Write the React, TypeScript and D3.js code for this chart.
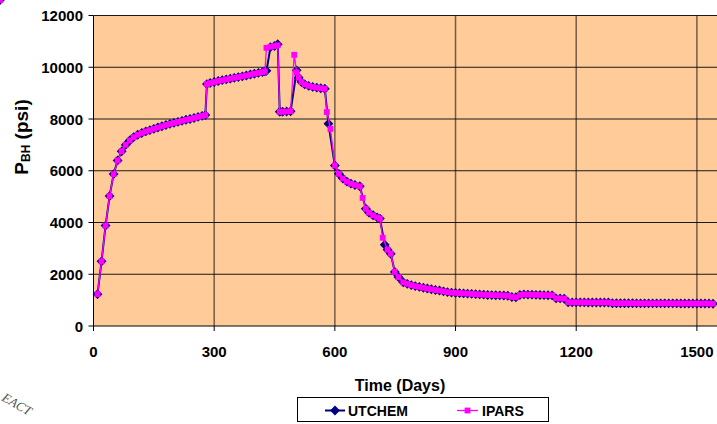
import * as d3 from "d3";

// sample times (days) shared by both runs; null = no sample for that run
const days = [
  10, 20, 30, 40, 50, 60, 70, 80, 90, 100, 110, 120, 130, 140, 150, 160, 170, 180, 190, 200,
  210, 220, 230, 240, 250, 260, 270, 278, 282, 290, 300, 310, 320, 330, 340, 350, 360, 370,
  380, 390, 400, 410, 420, 426, 430, 440, 450, 458, 463, 470, 480, 490, 499, 505, 510, 517,
  525, 535, 545, 555, 565, 575, 580, 584, 589, 600, 610, 620, 630, 640, 650, 662, 669, 677,
  685, 695, 705, 712, 719, 724, 731, 739, 749, 758, 770, 780, 790, 800, 810, 820, 830, 840,
  850, 860, 870, 880, 890, 900, 910, 920, 930, 940, 950, 960, 970, 980, 990, 1000, 1010,
  1020, 1030, 1040, 1050, 1060, 1070, 1080, 1090, 1100, 1110, 1120, 1130, 1140, 1150, 1160,
  1170, 1180, 1190, 1200, 1210, 1220, 1230, 1240, 1250, 1260, 1270, 1280, 1290, 1300, 1310,
  1320, 1330, 1340, 1350, 1360, 1370, 1380, 1390, 1400, 1410, 1420, 1430, 1440, 1450, 1460,
  1470, 1480, 1490, 1500, 1510, 1520, 1530, 1540, 1545,
];

const utchem: (number | null)[] = [
  1230, 2500, 3880, 5020, 5870, 6400, 6750, 7000, 7170, 7300, 7390, 7460, 7520, 7570, 7620, 7670, 7720, 7770, 7810, 7850,
  7890, 7930, 7970, 8000, 8040, 8080, 8120, 8150, 9350, 9390, 9430, 9470, 9500, 9530, 9560, 9590, 9620, 9650,
  9680, 9720, 9750, 9780, 9810, 9840, 9860, 10780, 10820, 10890, 8280, 8280, 8290, 8300, null, 9880, 9600, 9430,
  9340, 9280, 9240, 9210, 9190, 9170, null, 7820, null, 6200, 5880, 5700, 5580, 5500, 5450, 5400, null, 4530,
  4380, 4280, 4200, 4150, null, 3140, 2950, 2790, 2090, 1890, 1690, 1630, 1580, 1540, 1510, 1480, 1450, 1420,
  1390, 1370, 1340, 1310, 1290, 1280, 1270, 1260, 1250, 1240, 1230, 1220, 1210, 1200, 1195, 1190, 1185,
  1180, 1170, 1120, 1110, 1200, 1220, 1215, 1210, 1205, 1200, 1195, 1190, 1185, 1070, 1065,
  1060, 920, 915, 915, 915, 915, 910, 910, 910, 910, 910, 910, 880, 880, 880,
  880, 880, 880, 875, 875, 875, 875, 875, 875, 875, 875, 875, 875, 875,
  870, 870, 870, 870, 870, 870, 870, 870, 860,
];

const ipars: (number | null)[] = [
  1230, 2500, 3880, 5020, 5870, 6400, 6760, 7000, 7170, 7300, 7390, 7460, 7520, 7570, 7620, 7670, 7720, 7770, 7810, 7850,
  7890, 7930, 7970, 8000, 8040, 8080, 8120, 8150, 9350, 9390, 9430, 9470, 9500, 9530, 9560, 9590, 9620, 9650,
  9680, 9720, 9750, 9780, 9810, 9840, 10750, 10790, 10820, 10850, 8280, 8280, 8290, 8300, 10480, 9800, 9600, 9430,
  9340, 9280, 9240, 9210, 9190, 9170, 8270, null, 7620, 6200, 5880, 5700, 5580, 5500, 5450, 5400, 4950, 4530,
  4380, 4280, 4200, 4150, 3410, null, 2950, 2790, 2090, 1890, 1690, 1630, 1580, 1540, 1510, 1480, 1450, 1420,
  1390, 1370, 1340, 1310, 1290, 1280, 1270, 1260, 1250, 1240, 1230, 1220, 1210, 1200, 1195, 1190, 1185,
  1180, 1170, 1120, 1110, 1200, 1220, 1215, 1210, 1205, 1200, 1195, 1190, 1185, 1070, 1065,
  1060, 920, 915, 915, 915, 915, 910, 910, 910, 910, 910, 910, 880, 880, 880,
  880, 880, 880, 875, 875, 875, 875, 875, 875, 875, 875, 875, 875, 875,
  870, 870, 870, 870, 870, 870, 870, 870, 860,
];

const xTicks = [0, 300, 600, 900, 1200, 1500];
const yTicks = [0, 2000, 4000, 6000, 8000, 10000, 12000];

const W = 717;
const H = 424;
const plot = { left: 93.5, right: 717, top: 15.5, bottom: 326 };
const font = "'Liberation Sans', Arial, sans-serif";

export default function App() {
  const x = d3.scaleLinear().domain([0, 1550]).range([plot.left, plot.right]);
  const y = d3.scaleLinear().domain([0, 12000]).range([plot.bottom, plot.top]);

  const toPts = (vals: (number | null)[]) =>
    days.map((d, i) => [d, vals[i]] as [number, number | null]).filter((p) => p[1] !== null) as [number, number][];

  const uPts = toPts(utchem);
  const iPts = toPts(ipars);

  const line = d3.line<[number, number]>().x((d) => x(d[0])).y((d) => y(d[1]));
  const diamond = d3.symbol(d3.symbolDiamond2, 62)() as string;
  const square = d3.symbol(d3.symbolSquare, 34)() as string;

  const legendY = 410.5;

  return (
    <svg
      width={W}
      height={H}
      style={{ position: "absolute", left: 0, top: 0, background: "#fff" }}
      fontFamily={font}
    >
      <rect x={plot.left} y={plot.top} width={plot.right - plot.left} height={plot.bottom - plot.top} fill="#FFCC99" />

      {/* gridlines */}
      {yTicks.slice(1).map((t) => (
        <line key={"gy" + t} x1={plot.left} x2={plot.right} y1={y(t)} y2={y(t)} stroke="#1a1a1a" strokeWidth={1} />
      ))}
      {xTicks.slice(1).map((t) => (
        <line key={"gx" + t} x1={x(t)} x2={x(t)} y1={plot.top} y2={plot.bottom} stroke="#000" strokeOpacity={0.55} strokeWidth={1.5} />
      ))}

      {/* axes */}
      <line x1={plot.left} x2={plot.left} y1={plot.top} y2={plot.bottom} stroke="#000" />
      <line x1={plot.left} x2={plot.right} y1={plot.bottom} y2={plot.bottom} stroke="#000" />
      {yTicks.map((t) => (
        <g key={"ty" + t}>
          <line x1={plot.left - 5} x2={plot.left} y1={y(t)} y2={y(t)} stroke="#000" />
          <text x={83} y={y(t) + 5.5} textAnchor="end" fontSize={15} fontWeight="bold">
            {t}
          </text>
        </g>
      ))}
      {xTicks.map((t) => (
        <g key={"tx" + t}>
          <line x1={x(t)} x2={x(t)} y1={plot.bottom} y2={plot.bottom + 5} stroke="#000" />
          <text x={x(t)} y={357} textAnchor="middle" fontSize={15} fontWeight="bold">
            {t}
          </text>
        </g>
      ))}

      {/* titles */}
      <text x={400} y={391} textAnchor="middle" fontSize={16} fontWeight="bold">
        Time (Days)
      </text>
      <text transform="translate(28,137) rotate(-90)" textAnchor="middle" fontSize={19} fontWeight="bold">
        P<tspan fontSize={12} dy={2}>BH</tspan>
        <tspan dy={-2}> (psi)</tspan>
      </text>

      {/* UTCHEM */}
      <path d={line(uPts) ?? ""} fill="none" stroke="#000080" strokeWidth={2} />
      {uPts.map((p, i) => (
        <path key={"u" + i} d={diamond} transform={`translate(${x(p[0])},${y(p[1])})`} fill="#000080" />
      ))}

      {/* IPARS */}
      <path d={line(iPts) ?? ""} fill="none" stroke="#FF00FF" strokeWidth={1.3} />
      {iPts.map((p, i) => (
        <path key={"i" + i} d={square} transform={`translate(${x(p[0])},${y(p[1])})`} fill="#FF00FF" />
      ))}

      {/* legend */}
      <rect x={297.5} y={397.5} width={251} height={24} fill="#fff" stroke="#000" />
      <line x1={325} x2={345} y1={legendY} y2={legendY} stroke="#000080" strokeWidth={2} />
      <path d={diamond} transform={`translate(335,${legendY})`} fill="#000080" />
      <text x={348} y={legendY + 5} fontSize={14} fontWeight="bold">
        UTCHEM
      </text>
      <line x1={457} x2={478} y1={legendY} y2={legendY} stroke="#FF00FF" strokeWidth={1.3} />
      <path d={square} transform={`translate(467.5,${legendY})`} fill="#FF00FF" />
      <text x={482} y={legendY + 5} fontSize={14} fontWeight="bold">
        IPARS
      </text>

      {/* scan residue in the corner */}
      <text transform="translate(1,400) rotate(30)" fontSize={13} fontStyle="italic" fill="#555" fontFamily="'Liberation Serif', serif">
        EACT
      </text>
    </svg>
  );
}
